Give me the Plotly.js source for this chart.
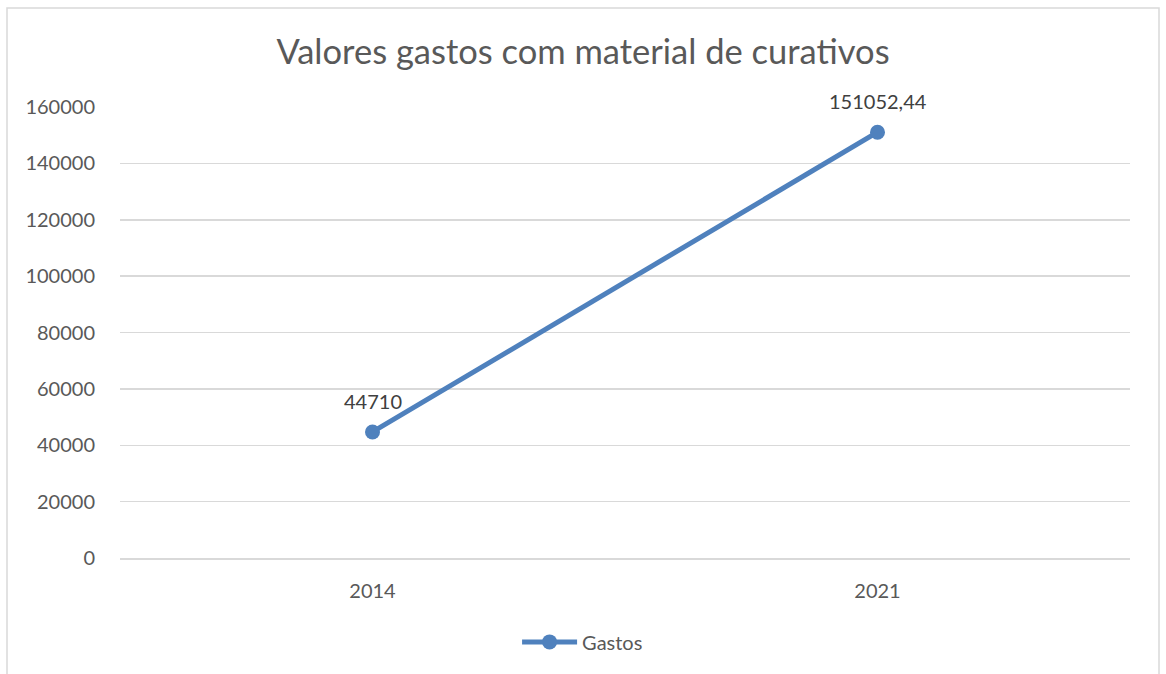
<!DOCTYPE html>
<html>
<head>
<meta charset="utf-8">
<script src="https://cdn.plot.ly/plotly-3.0.1.min.js"></script>
<style>html,body{margin:0;padding:0;background:#fff;}#chart{width:1166px;height:674px;}</style>
</head>
<body>
<div id="chart"></div>
<script>
const years = ['2014', '2021'];
const gastos = [44710, 151052.44];
const labels = ['44710', '151052,44'];
const seriesName = 'Gastos';
const chartTitle = 'Valores gastos com material de curativos';
const yTicks = [0, 20000, 40000, 60000, 80000, 100000, 120000, 140000, 160000];

const FONT = 'Lato, "Open Sans", sans-serif';
const blue = '#4f81bd';

const trace = {
  x: years, y: gastos, name: seriesName, type: 'scatter', mode: 'lines+markers',
  line: {color: blue, width: 5},
  marker: {color: blue, size: 15},
  hoverinfo: 'none', showlegend: true
};

const annotations = years.map((yr, i) => ({
  x: i, y: gastos[i], xref: 'x', yref: 'y', text: labels[i], showarrow: false,
  yshift: 31, font: {family: FONT, size: 20, color: '#404040'}
}));

const layout = {
  width: 1166, height: 674,
  margin: {l: 120, r: 36, t: 107, b: 116},
  paper_bgcolor: '#fff', plot_bgcolor: '#fff',
  title: {text: chartTitle, x: 0.5, xanchor: 'center', y: 0.923, yanchor: 'middle', yref: 'container',
    font: {family: FONT, size: 34.5, color: '#595959'}},
  font: {family: FONT, color: '#595959', size: 20},
  xaxis: {type: 'category', range: [-0.5, 1.5], showgrid: false, zeroline: false,
    showline: true, linecolor: '#d9d9d9', linewidth: 1.5,
    ticks: 'outside', ticklen: 14, tickcolor: 'rgba(0,0,0,0)',
    tickfont: {family: FONT, size: 20, color: '#595959'}},
  yaxis: {range: [0, 160000], tickvals: yTicks, ticktext: yTicks.map(String),
    showgrid: true, gridcolor: '#d9d9d9', gridwidth: 1.5, zeroline: false, showline: false,
    ticks: 'outside', ticklen: 20, tickcolor: 'rgba(0,0,0,0)',
    tickfont: {family: FONT, size: 20, color: '#595959'}},
  showlegend: true,
  legend: {orientation: 'h', x: 0.458, xanchor: 'center', y: -0.186, yanchor: 'middle',
    itemwidth: 55, font: {family: FONT, size: 20, color: '#595959'}},
  annotations: annotations,
  shapes: [{type: 'rect', xref: 'paper', yref: 'paper',
    x0: (7 - 120) / 1010, x1: (1159 - 120) / 1010, y0: (558 - 690) / 451, y1: (558 - 8) / 451,
    line: {color: '#d9d9d9', width: 1.5}, fillcolor: 'rgba(0,0,0,0)', layer: 'below'}]
};

Plotly.newPlot('chart', [trace], layout, {displayModeBar: false, staticPlot: true});
</script>
</body>
</html>
